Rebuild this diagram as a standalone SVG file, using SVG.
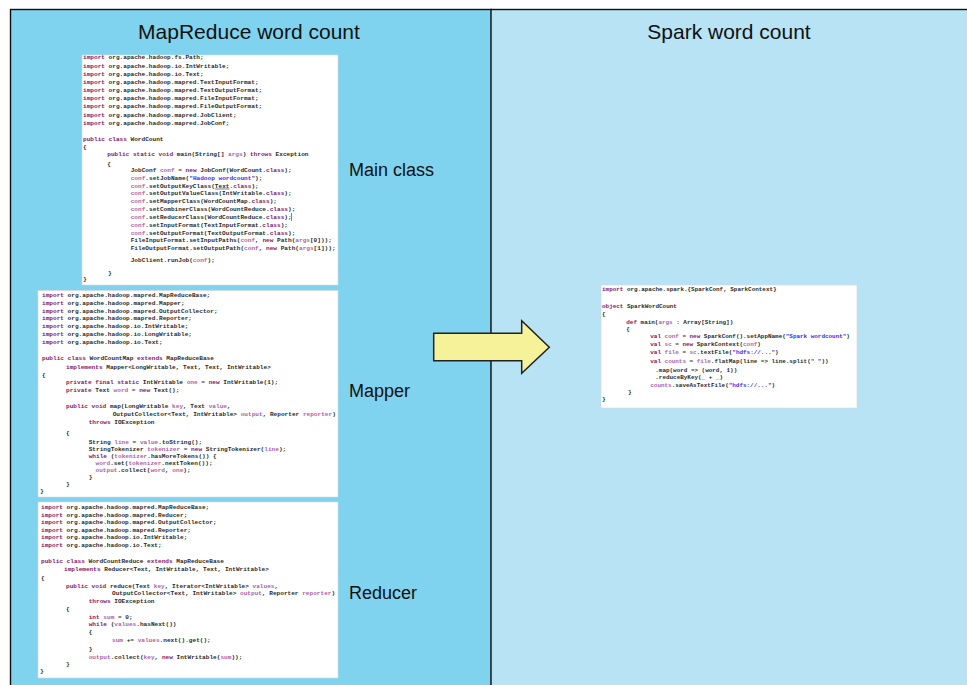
<svg xmlns="http://www.w3.org/2000/svg" width="967" height="685" viewBox="0 0 967 685">
<style>
.title{font-family:"Liberation Sans",Arial,sans-serif;font-size:21px;fill:#111;text-anchor:middle}
.lbl{font-family:"Liberation Sans",Arial,sans-serif;font-size:18px;fill:#111}
.code{font-family:"Liberation Mono","DejaVu Sans Mono",monospace;font-size:6.1px;font-weight:bold;fill:#2a2a2a}
.sp{font-size:5.95px}
.k{fill:#8a1466}
.v{fill:#b060a8}
.s{fill:#3a2cf0}
.box{fill:#ffffff;stroke:#d8d8d8;stroke-width:0.6}
.arrow{fill:#f5f29a;stroke:#222;stroke-width:1.5;stroke-linejoin:miter}
</style>
<g id="mapreduce-panel">
<rect x="10.5" y="9.5" width="481" height="690" fill="#80d3ef" stroke="#111" stroke-width="1.4"/>
<text class="title" x="249" y="39">MapReduce word count</text>
</g>
<g id="spark-panel">
<rect x="491" y="9.5" width="490" height="690" fill="#b7e3f5" stroke="#111" stroke-width="1.4"/>
<text class="title" x="729" y="39">Spark word count</text>
</g>

<g id="main-class">
<rect class="box" x="82" y="55" width="256" height="230"/>
<text class="code">
<tspan x="83" y="59.3"><tspan class="k">import</tspan> org.apache.hadoop.fs.Path;</tspan>
<tspan x="83" y="67.5"><tspan class="k">import</tspan> org.apache.hadoop.io.IntWritable;</tspan>
<tspan x="83" y="75.7"><tspan class="k">import</tspan> org.apache.hadoop.io.Text;</tspan>
<tspan x="83" y="83.8"><tspan class="k">import</tspan> org.apache.hadoop.mapred.TextInputFormat;</tspan>
<tspan x="83" y="92"><tspan class="k">import</tspan> org.apache.hadoop.mapred.TextOutputFormat;</tspan>
<tspan x="83" y="100.2"><tspan class="k">import</tspan> org.apache.hadoop.mapred.FileInputFormat;</tspan>
<tspan x="83" y="108.4"><tspan class="k">import</tspan> org.apache.hadoop.mapred.FileOutputFormat;</tspan>
<tspan x="83" y="116.5"><tspan class="k">import</tspan> org.apache.hadoop.mapred.JobClient;</tspan>
<tspan x="83" y="124.7"><tspan class="k">import</tspan> org.apache.hadoop.mapred.JobConf;</tspan>
<tspan x="83" y="141.3"><tspan class="k">public class</tspan> WordCount</tspan>
<tspan x="83" y="148.5">{</tspan>
<tspan x="107.3" y="155.7"><tspan class="k">public static void</tspan> main(String[] <tspan class="v">args</tspan>) <tspan class="k">throws</tspan> Exception</tspan>
<tspan x="107.3" y="166">{</tspan>
<tspan x="130.7" y="172">JobConf <tspan class="v">conf</tspan> = <tspan class="k">new</tspan> JobConf(WordCount.<tspan class="k">class</tspan>);</tspan>
<tspan x="130.7" y="179.8"><tspan class="v">conf</tspan>.setJobName(<tspan class="s">"Hadoop wordcount"</tspan>);</tspan>
<tspan x="130.7" y="187.7"><tspan class="v">conf</tspan>.setOutputKeyClass(<tspan text-decoration="underline">Text</tspan>.<tspan class="k">class</tspan>);</tspan>
<tspan x="130.7" y="195.3"><tspan class="v">conf</tspan>.setOutputValueClass(IntWritable.<tspan class="k">class</tspan>);</tspan>
<tspan x="130.7" y="203"><tspan class="v">conf</tspan>.setMapperClass(WordCountMap.<tspan class="k">class</tspan>);</tspan>
<tspan x="130.7" y="211.3"><tspan class="v">conf</tspan>.setCombinerClass(WordCountReduce.<tspan class="k">class</tspan>);</tspan>
<tspan x="130.7" y="219"><tspan class="v">conf</tspan>.setReducerClass(WordCountReduce.<tspan class="k">class</tspan>);</tspan>
<tspan x="130.7" y="227"><tspan class="v">conf</tspan>.setInputFormat(TextInputFormat.<tspan class="k">class</tspan>);</tspan>
<tspan x="130.7" y="234.7"><tspan class="v">conf</tspan>.setOutputFormat(TextOutputFormat.<tspan class="k">class</tspan>);</tspan>
<tspan x="130.7" y="242.3">FileInputFormat.setInputPaths(<tspan class="v">conf</tspan>, <tspan class="k">new</tspan> Path(<tspan class="v">args</tspan>[0]));</tspan>
<tspan x="130.7" y="250">FileOutputFormat.setOutputPath(<tspan class="v">conf</tspan>, <tspan class="k">new</tspan> Path(<tspan class="v">args</tspan>[1]));</tspan>
<tspan x="130.7" y="262">JobClient.runJob(<tspan class="v">conf</tspan>);</tspan>
<tspan x="108" y="274.7">}</tspan>
<tspan x="83" y="280.7">}</tspan>
</text>
<line x1="291.5" y1="213" x2="291.5" y2="221" stroke="#333" stroke-width="0.6"/>
</g>

<g id="mapper">
<rect class="box" x="38" y="290.5" width="300" height="206.5"/>
<text class="code">
<tspan x="42" y="296.7"><tspan class="k">import</tspan> org.apache.hadoop.mapred.MapReduceBase;</tspan>
<tspan x="42" y="304.5"><tspan class="k">import</tspan> org.apache.hadoop.mapred.Mapper;</tspan>
<tspan x="42" y="312.5"><tspan class="k">import</tspan> org.apache.hadoop.mapred.OutputCollector;</tspan>
<tspan x="42" y="320.4"><tspan class="k">import</tspan> org.apache.hadoop.mapred.Reporter;</tspan>
<tspan x="42" y="328.4"><tspan class="k">import</tspan> org.apache.hadoop.io.IntWritable;</tspan>
<tspan x="42" y="336.4"><tspan class="k">import</tspan> org.apache.hadoop.io.LongWritable;</tspan>
<tspan x="42" y="344.3"><tspan class="k">import</tspan> org.apache.hadoop.io.Text;</tspan>
<tspan x="42" y="360"><tspan class="k">public class</tspan> WordCountMap <tspan class="k">extends</tspan> MapReduceBase</tspan>
<tspan x="66" y="369"><tspan class="k">implements</tspan> Mapper&lt;LongWritable, Text, Text, IntWritable&gt;</tspan>
<tspan x="42" y="377.3">{</tspan>
<tspan x="66" y="384.3"><tspan class="k">private final static</tspan> IntWritable <tspan class="v">one</tspan> = <tspan class="k">new</tspan> IntWritable(1);</tspan>
<tspan x="66" y="391.7"><tspan class="k">private</tspan> Text <tspan class="v">word</tspan> = <tspan class="k">new</tspan> Text();</tspan>
<tspan x="66" y="408"><tspan class="k">public void</tspan> map(LongWritable <tspan class="v">key</tspan>, Text <tspan class="v">value</tspan>,</tspan>
<tspan x="112.7" y="416.3">OutputCollector&lt;Text, IntWritable&gt; <tspan class="v">output</tspan>, Reporter <tspan class="v">reporter</tspan>)</tspan>
<tspan x="88.7" y="424.3"><tspan class="k">throws</tspan> IOException</tspan>
<tspan x="66" y="434.7">{</tspan>
<tspan x="88.7" y="443.7">String <tspan class="v">line</tspan> = <tspan class="v">value</tspan>.toString();</tspan>
<tspan x="88.7" y="451">StringTokenizer <tspan class="v">tokenizer</tspan> = <tspan class="k">new</tspan> StringTokenizer(<tspan class="v">line</tspan>);</tspan>
<tspan x="88.7" y="458.3"><tspan class="k">while</tspan> (<tspan class="v">tokenizer</tspan>.hasMoreTokens()) {</tspan>
<tspan x="95.5" y="465.2"><tspan class="v">word</tspan>.set(<tspan class="v">tokenizer</tspan>.nextToken());</tspan>
<tspan x="95.5" y="472.1"><tspan class="v">output</tspan>.collect(<tspan class="v">word</tspan>, <tspan class="v">one</tspan>);</tspan>
<tspan x="88.7" y="479">}</tspan>
<tspan x="66" y="486">}</tspan>
<tspan x="40" y="493">}</tspan>
</text>
</g>

<g id="reducer">
<rect class="box" x="38" y="502" width="300" height="176"/>
<text class="code">
<tspan x="41" y="509"><tspan class="k">import</tspan> org.apache.hadoop.mapred.MapReduceBase;</tspan>
<tspan x="41" y="516.5"><tspan class="k">import</tspan> org.apache.hadoop.mapred.Reducer;</tspan>
<tspan x="41" y="524.1"><tspan class="k">import</tspan> org.apache.hadoop.mapred.OutputCollector;</tspan>
<tspan x="41" y="531.6"><tspan class="k">import</tspan> org.apache.hadoop.mapred.Reporter;</tspan>
<tspan x="41" y="539.2"><tspan class="k">import</tspan> org.apache.hadoop.io.IntWritable;</tspan>
<tspan x="41" y="546.7"><tspan class="k">import</tspan> org.apache.hadoop.io.Text;</tspan>
<tspan x="41" y="562.7"><tspan class="k">public class</tspan> WordCountReduce <tspan class="k">extends</tspan> MapReduceBase</tspan>
<tspan x="64" y="571"><tspan class="k">implements</tspan> Reducer&lt;Text, IntWritable, Text, IntWritable&gt;</tspan>
<tspan x="41" y="580">{</tspan>
<tspan x="66" y="588"><tspan class="k">public void</tspan> reduce(Text <tspan class="v">key</tspan>, Iterator&lt;IntWritable&gt; <tspan class="v">values</tspan>,</tspan>
<tspan x="112" y="595.3">OutputCollector&lt;Text, IntWritable&gt; <tspan class="v">output</tspan>, Reporter <tspan class="v">reporter</tspan>)</tspan>
<tspan x="88.7" y="603"><tspan class="k">throws</tspan> IOException</tspan>
<tspan x="66" y="611.3">{</tspan>
<tspan x="88.7" y="618.7"><tspan class="k">int</tspan> <tspan class="v">sum</tspan> = 0;</tspan>
<tspan x="88.7" y="626.3"><tspan class="k">while</tspan> (<tspan class="v">values</tspan>.hasNext())</tspan>
<tspan x="88.7" y="633.7">{</tspan>
<tspan x="112" y="642.3"><tspan class="v">sum</tspan> += <tspan class="v">values</tspan>.next().get();</tspan>
<tspan x="88.7" y="650.7">}</tspan>
<tspan x="88.7" y="658.7"><tspan class="v">output</tspan>.collect(<tspan class="v">key</tspan>, <tspan class="k">new</tspan> IntWritable(<tspan class="v">sum</tspan>));</tspan>
<tspan x="66" y="666">}</tspan>
<tspan x="40" y="673">}</tspan>
</text>
</g>

<g id="spark-code">
<rect class="box" x="601" y="285" width="256" height="123"/>
<text class="code sp">
<tspan x="602" y="291.3"><tspan class="k">import</tspan> org.apache.spark.{SparkConf, SparkContext}</tspan>
<tspan x="602" y="308"><tspan class="k">object</tspan> SparkWordCount</tspan>
<tspan x="602" y="316.3">{</tspan>
<tspan x="626.3" y="324"><tspan class="k">def</tspan> main(<tspan class="v">args</tspan> : Array[String])</tspan>
<tspan x="626.3" y="331.3">{</tspan>
<tspan x="650.3" y="338.3"><tspan class="k">val</tspan> <tspan class="v">conf</tspan> = <tspan class="k">new</tspan> SparkConf().setAppName(<tspan class="s">"Spark wordcount"</tspan>)</tspan>
<tspan x="650.3" y="346"><tspan class="k">val</tspan> <tspan class="v">sc</tspan> = <tspan class="k">new</tspan> SparkContext(<tspan class="v">conf</tspan>)</tspan>
<tspan x="650.3" y="354"><tspan class="k">val</tspan> <tspan class="v">file</tspan> = <tspan class="v">sc</tspan>.textFile(<tspan class="s">"hdfs://..."</tspan>)</tspan>
<tspan x="650.3" y="363.3"><tspan class="k">val</tspan> <tspan class="v">counts</tspan> = <tspan class="v">file</tspan>.flatMap(line =&gt; line.split(<tspan class="s">" "</tspan>))</tspan>
<tspan x="655.3" y="371.7">.map(word =&gt; (word, 1))</tspan>
<tspan x="655.3" y="379">.reduceByKey(_ + _)</tspan>
<tspan x="650.3" y="386.7"><tspan class="v">counts</tspan>.saveAsTextFile(<tspan class="s">"hdfs://..."</tspan>)</tspan>
<tspan x="628" y="394">}</tspan>
<tspan x="602" y="401.3">}</tspan>
</text>
</g>

<g id="labels">
<text class="lbl" x="349" y="176">Main class</text>
<text class="lbl" x="349" y="397">Mapper</text>
<text class="lbl" x="349" y="599">Reducer</text>
</g>

<g id="connectors">
<polygon class="arrow" points="433.7,333.3 521.7,333.3 521.7,320.7 549.3,347.3 521.7,373.3 521.7,360.7 433.7,360.7"/>
</g>
</svg>
